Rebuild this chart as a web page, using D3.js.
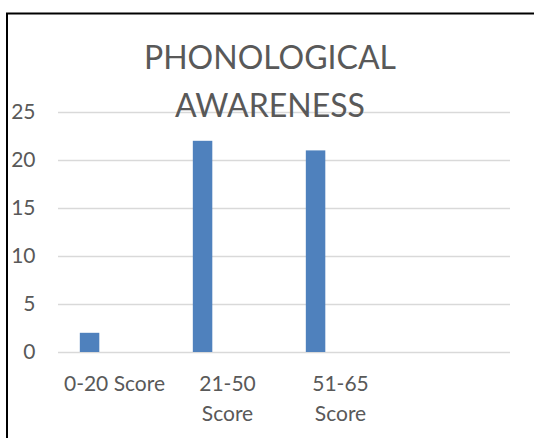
<!DOCTYPE html>
<html>
<head>
<meta charset="utf-8">
<script src="https://cdn.jsdelivr.net/npm/d3@7"></script>
<style>
  html, body { margin: 0; padding: 0; background: #fff; }
  svg { display: block; }
  text { font-family: Lato, "Open Sans", sans-serif; }
</style>
</head>
<body>
<svg id="chart" width="534" height="438"></svg>
<script>
// ---- data ----
const titleText = "PHONOLOGICAL AWARENESS";
const categories = ["0-20 Score", "21-50 Score", "51-65 Score", ""];
const seriesNames = ["Series1", "Series2", "Series3"];
const series1 = [2, 22, 21, null];
const yTicks = [0, 5, 10, 15, 20, 25];

// ---- layout ----
const W = 534, H = 438;
const plot = { left: 58, right: 510, top: 112, bottom: 352 };

const svg = d3.select("#chart");

// outer frame (only left/top edges visible in the crop)
svg.append("rect")
  .attr("x", 7).attr("y", 13.5)
  .attr("width", 700).attr("height", 700)
  .attr("fill", "#fff")
  .attr("stroke", "#000").attr("stroke-width", 2);

const x = d3.scaleBand().domain(categories.map((d, i) => i))
  .range([plot.left, plot.right]).paddingInner(0).paddingOuter(0);
const xs = d3.scaleBand().domain(seriesNames)
  .range([0, x.bandwidth()]).paddingInner(0).paddingOuter(1.4).align(0.4);
const y = d3.scaleLinear().domain([0, 25]).range([plot.bottom, plot.top]);

// gridlines
const yAxis = d3.axisLeft(y).tickValues(yTicks).tickSize(0).tickPadding(0);
svg.append("g")
  .selectAll("line").data(yTicks).join("line")
  .attr("x1", plot.left).attr("x2", plot.right)
  .attr("y1", d => Math.round(y(d)) + 0.5).attr("y2", d => Math.round(y(d)) + 0.5)
  .attr("stroke", "#d9d9d9").attr("stroke-width", 1.5);

// y tick labels
const gy = svg.append("g").attr("transform", `translate(35.5,0)`).call(yAxis);
gy.select(".domain").remove();
gy.selectAll("text")
  .attr("fill", "#595959")
  .attr("font-size", 21)
  .attr("font-family", "Lato, sans-serif")
  .attr("x", 0);

// bars
svg.append("g").selectAll("rect")
  .data(series1.map((v, i) => ({ v, i })).filter(d => d.v != null))
  .join("rect")
  .attr("x", d => x(d.i) + xs("Series1"))
  .attr("width", xs.bandwidth())
  .attr("y", d => y(d.v))
  .attr("height", d => y(0) - y(d.v))
  .attr("fill", "#4f81bd");

// x axis labels (wrapped)
const xAxis = d3.axisBottom(x).tickSize(0).tickPadding(0).tickFormat(i => categories[i]);
const gx = svg.append("g").attr("transform", `translate(0,${plot.bottom})`).call(xAxis);
gx.select(".domain").remove();
gx.selectAll("text")
  .attr("fill", "#595959")
  .attr("font-size", 21)
  .attr("font-family", "Lato, sans-serif")
  .attr("dy", null)
  .attr("y", 0)
  .each(function () {
    const t = d3.select(this);
    const txt = t.text();
    const words = txt.split(" ");
    t.text(null);
    const maxW = 106;
    let lines = [];
    let cur = [];
    const probe = t.append("tspan");
    words.forEach(w => {
      const test = cur.concat([w]).join(" ");
      probe.text(test);
      if (probe.node().getComputedTextLength() > maxW && cur.length) {
        lines.push(cur.join(" "));
        cur = [w];
      } else cur.push(w);
    });
    if (cur.length) lines.push(cur.join(" "));
    probe.remove();
    lines.forEach((ln, k) => {
      t.append("tspan").attr("x", 0).attr("y", 38.5 + k * 30).text(ln);
    });
  });

// title (drawn on top of gridlines)
const titleWords = titleText.split(" ");
const title = svg.append("text")
  .attr("text-anchor", "middle")
  .attr("fill", "#595959")
  .attr("font-size", 32)
  .attr("font-family", "Lato, sans-serif");
titleWords.forEach((w, k) => {
  title.append("tspan").attr("x", 270).attr("y", 68.5 + k * 48).text(w);
});
</script>
</body>
</html>
